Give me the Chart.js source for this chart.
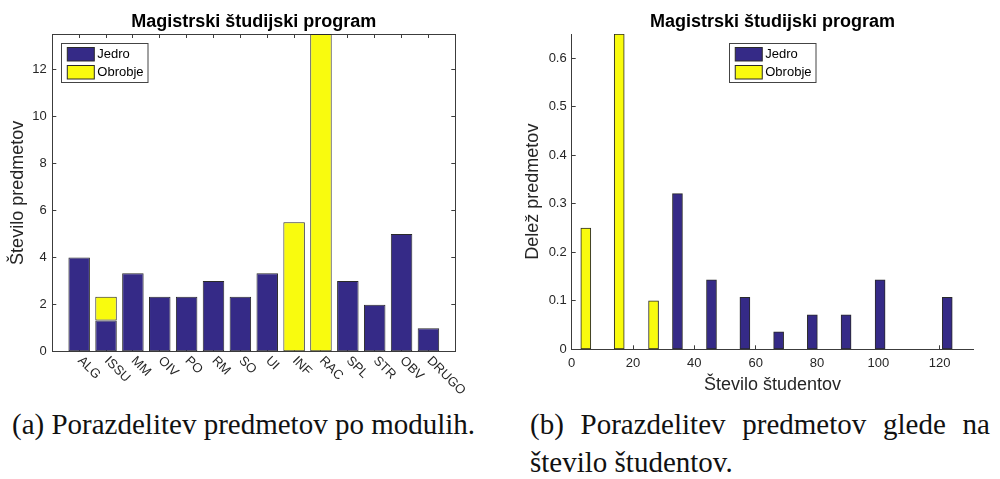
<!DOCTYPE html>
<html>
<head>
<meta charset="utf-8">
<script src="https://cdn.jsdelivr.net/npm/chart.js@4.4.1/dist/chart.umd.min.js"></script>
<style>
  html, body { margin: 0; padding: 0; background: #fff; width: 1000px; height: 479px; overflow: hidden; }
  .okvir { position: absolute; top: 0; width: 500px; height: 400px; }
  #okvirA { left: 0; }
  #okvirB { left: 500px; }
  .napis { position: absolute; font-family: "Liberation Serif", serif; font-size: 29px; line-height: 37.7px; color: #111; }
  #napisA { left: 12px; top: 406px; white-space: nowrap; }
  #napisB { left: 530px; top: 406px; width: 460px; text-align: justify; }
</style>
</head>
<body>
<div class="okvir" id="okvirA"><canvas id="grafA" width="500" height="400"></canvas></div>
<div class="okvir" id="okvirB"><canvas id="grafB" width="500" height="400"></canvas></div>
<div class="napis" id="napisA">(a) Porazdelitev predmetov po modulih.</div>
<div class="napis" id="napisB">(b) Porazdelitev predmetov glede na število študentov.</div>
<script>
// ---- podatki (a): predmeti po modulih ----
const moduli = ['ALG', 'ISSU', 'MM', 'OIV', 'PO', 'RM', 'SO', 'UI', 'INF', 'RAC', 'SPL', 'STR', 'OBV', 'DRUGO'];
const jedroA = [4, 1.33, 3.33, 2.33, 2.33, 3, 2.33, 3.33, null, null, 3, 2, 5, 1];
const obrobjeA = [null, 1, null, null, null, null, null, null, 5.5, 13.5, null, null, null, null];
const yTickiA = [0, 2, 4, 6, 8, 10, 12];

// ---- podatki (b): delež predmetov glede na število študentov ----
const studentiJedro = [34.5, 45.6, 56.5, 67.5, 78.5, 89.5, 100.6, 122.5];
const delezJedro = [0.321, 0.143, 0.107, 0.036, 0.071, 0.071, 0.143, 0.107];
const studentiObrobje = [4.6, 15.5, 26.7];
const delezObrobje = [0.25, 0.65, 0.1];
const xTickiB = [0, 20, 40, 60, 80, 100, 120];
const yTickiB = [0, 0.1, 0.2, 0.3, 0.4, 0.5, 0.6];

const C = { jedro: '#352A87', obrobje: '#F9FB0E', rob: '#2a2a2a', os: '#3c3c3c', tekst: '#262626' };
const PISAVA = '"Liberation Sans", Arial, sans-serif';

Chart.defaults.font.family = PISAVA;
Chart.defaults.color = C.tekst;

const naTicke = (vrednosti) => (s) => { s.ticks = vrednosti.map((v) => ({ value: v })); };
const mreza = { drawOnChartArea: false, drawTicks: true, tickLength: -4, color: C.os, lineWidth: 1, offset: false };
const rob = { display: true, color: C.os, width: 1 };

// legenda znotraj risalne površine
function legenda(kje) {
  return {
    id: 'legenda',
    afterDraw(chart) {
      const ctx = chart.ctx, a = chart.chartArea;
      const w = 86.5, h = 39;
      const x0 = kje === 'levo' ? a.left + 9 : (a.left + a.right) / 2 - w / 2;
      const y0 = a.top + 9;
      ctx.save();
      ctx.fillStyle = '#fff';
      ctx.fillRect(x0, y0, w, h);
      ctx.strokeStyle = '#444';
      ctx.lineWidth = 1;
      ctx.strokeRect(Math.round(x0) + 0.5, Math.round(y0) + 0.5, w, h);
      ctx.font = '13px ' + PISAVA;
      ctx.textBaseline = 'middle';
      chart.data.datasets.forEach((ds, i) => {
        const sy = y0 + 4.5 + i * 18;
        ctx.fillStyle = ds.backgroundColor;
        ctx.fillRect(x0 + 6, sy, 27, 13.5);
        ctx.strokeStyle = C.rob;
        ctx.strokeRect(x0 + 6, sy, 27, 13.5);
        ctx.fillStyle = '#000';
        ctx.fillText(ds.label, x0 + 36, sy + 7);
      });
      ctx.restore();
    }
  };
}

// poševni napisi modulov na osi x
const posevniNapisi = {
  id: 'posevniNapisi',
  afterDraw(chart) {
    const sx = chart.scales.x, ctx = chart.ctx;
    ctx.save();
    ctx.font = '13px ' + PISAVA;
    ctx.fillStyle = C.tekst;
    ctx.textAlign = 'left';
    ctx.textBaseline = 'middle';
    moduli.forEach((m, i) => {
      ctx.save();
      ctx.translate(sx.getPixelForValue(i + 1) + 0.5, sx.top + 7);
      ctx.rotate(Math.PI / 4);
      ctx.fillText(m, 0, 0);
      ctx.restore();
    });
    ctx.restore();
  }
};

const naslov = {
  display: true, text: 'Magistrski študijski program', color: '#000', fullSize: false,
  font: { size: 18, weight: 'bold' }, padding: { top: 10.9, bottom: 1.5 }
};

// ---- graf (a) ----
new Chart(document.getElementById('grafA'), {
  type: 'bar',
  data: {
    datasets: [
      { label: 'Jedro', data: jedroA.map((v, i) => ({ x: i + 1, y: v })), backgroundColor: C.jedro },
      { label: 'Obrobje', data: obrobjeA.map((v, i) => ({ x: i + 1, y: v })), backgroundColor: C.obrobje }
    ]
  },
  options: {
    responsive: false, animation: false, events: [],
    layout: { padding: { left: 0, right: 44.7, top: 0, bottom: 0 } },
    datasets: { bar: { xAxisID: 'x', yAxisID: 'y', borderColor: C.rob, borderWidth: 1, borderSkipped: false, barPercentage: 0.8, categoryPercentage: 1 } },
    plugins: { legend: { display: false }, tooltip: { enabled: false }, title: naslov },
    scales: {
      x: {
        type: 'linear', position: 'bottom', min: 0, max: 15, stacked: true, offset: false,
        afterBuildTicks: naTicke(moduli.map((m, i) => i + 1)),
        ticks: { display: false }, grid: mreza, border: rob,
        afterFit: (s) => { s.height = 48.3; }
      },
      x2: {
        type: 'linear', position: 'top', min: 0, max: 15, offset: false,
        afterBuildTicks: naTicke(moduli.map((m, i) => i + 1)),
        ticks: { display: false }, grid: mreza, border: rob,
        afterFit: (s) => { s.height = 0; }
      },
      y: {
        type: 'linear', position: 'left', min: 0, max: 13.5, stacked: true,
        afterBuildTicks: naTicke(yTickiA),
        ticks: { font: { size: 13 }, padding: 9.6, color: C.tekst },
        grid: mreza, border: rob,
        title: { display: true, text: 'Število predmetov', font: { size: 18 }, color: C.tekst, padding: { top: 7.2, bottom: 0 } },
        afterFit: (s) => { s.width = 52.3; }
      },
      y2: {
        type: 'linear', position: 'right', min: 0, max: 13.5,
        afterBuildTicks: naTicke(yTickiA),
        ticks: { display: false }, grid: mreza, border: rob,
        afterFit: (s) => { s.width = 0; }
      }
    }
  },
  plugins: [posevniNapisi, legenda('levo')]
});

// ---- graf (b) ----
new Chart(document.getElementById('grafB'), {
  type: 'bar',
  data: {
    datasets: [
      { label: 'Jedro', data: studentiJedro.map((x, i) => ({ x: x, y: delezJedro[i] })), backgroundColor: C.jedro },
      { label: 'Obrobje', data: studentiObrobje.map((x, i) => ({ x: x, y: delezObrobje[i] })), backgroundColor: C.obrobje }
    ]
  },
  options: {
    responsive: false, animation: false, events: [],
    layout: { padding: { left: 0, right: 26.7, top: 0, bottom: 0 } },
    datasets: { bar: { grouped: false, barThickness: 10, borderColor: C.rob, borderWidth: 1, borderSkipped: false } },
    plugins: { legend: { display: false }, tooltip: { enabled: false }, title: naslov },
    scales: {
      x: {
        type: 'linear', position: 'bottom', min: 0, max: 131, offset: false,
        afterBuildTicks: naTicke(xTickiB),
        ticks: { font: { size: 13 }, padding: 10, color: C.tekst, maxRotation: 0 },
        grid: mreza, border: rob,
        title: { display: true, text: 'Število študentov', font: { size: 18 }, color: C.tekst, padding: { top: 0, bottom: 4.2 } },
        afterFit: (s) => { s.height = 50.7; }
      },
      y: {
        type: 'linear', position: 'left', min: 0, max: 0.65,
        afterBuildTicks: naTicke(yTickiB),
        ticks: { font: { size: 13 }, padding: 9, color: C.tekst },
        grid: mreza, border: rob,
        title: { display: true, text: 'Delež predmetov', font: { size: 18 }, color: C.tekst, padding: { top: 22.2, bottom: 0 } },
        afterFit: (s) => { s.width = 71.7; }
      }
    }
  },
  plugins: [legenda('sredina')]
});
</script>
</body>
</html>
